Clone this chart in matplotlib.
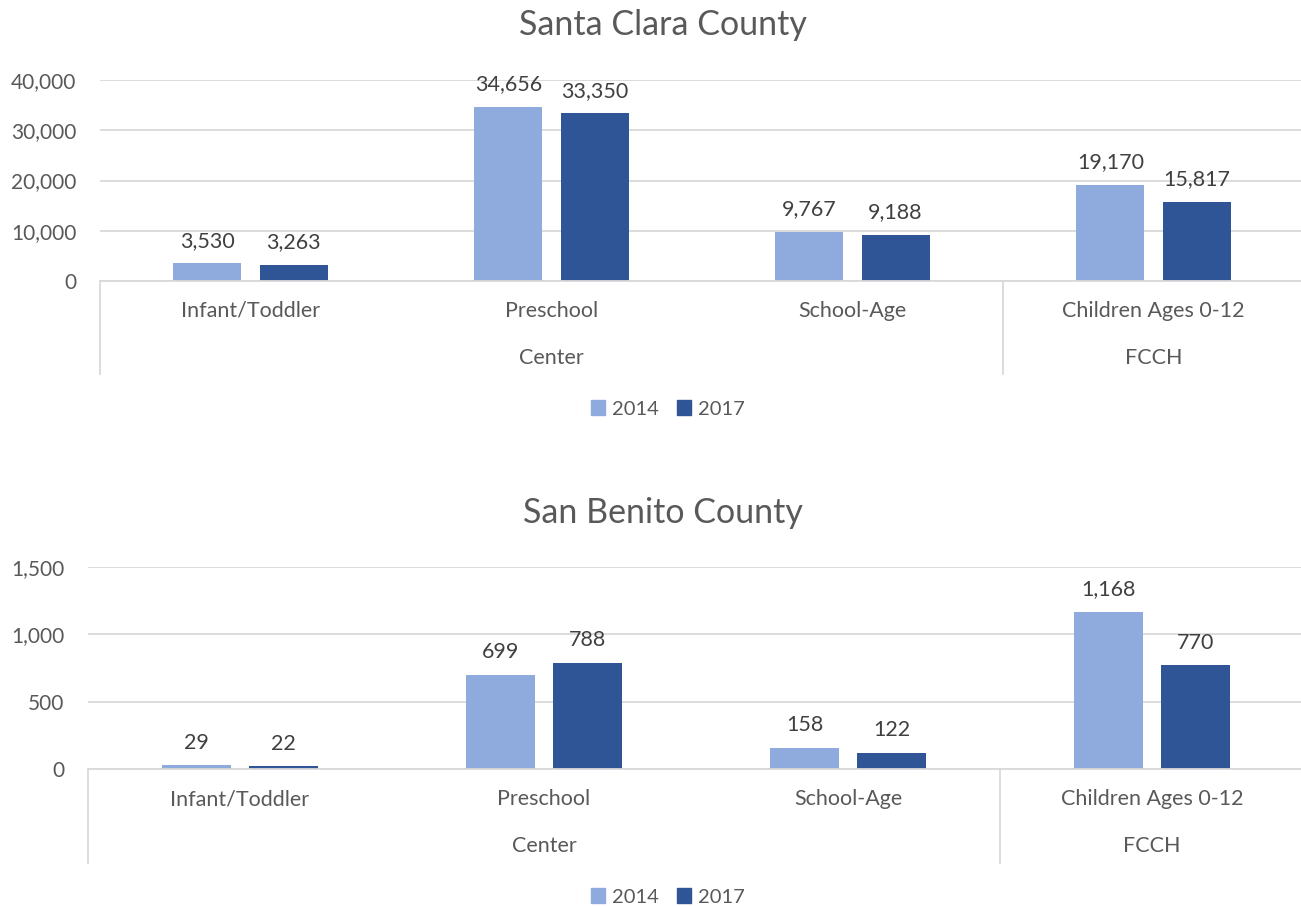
import matplotlib
matplotlib.use("Agg")
import matplotlib.pyplot as plt
import matplotlib.transforms as mtransforms
from matplotlib.patches import Patch

plt.rcParams['font.family'] = ['Lato', 'DejaVu Sans']

categories = ["Infant/Toddler", "Preschool", "School-Age", "Children Ages 0-12"]
groups = ["Center", "Center", "Center", "FCCH"]
series_names = ["2014", "2017"]

santa_clara_2014 = [3530, 34656, 9767, 19170]
santa_clara_2017 = [3263, 33350, 9188, 15817]
san_benito_2014 = [29, 699, 158, 1168]
san_benito_2017 = [22, 788, 122, 770]

sc_ticks = [0, 10000, 20000, 30000, 40000]
sb_ticks = [0, 500, 1000, 1500]

C14 = "#8FAADC"
C17 = "#2F5597"
GRID = "#D9D9D9"
TXT = "#595959"
LBL = "#404040"

W, H = 1301, 907
fig = plt.figure(figsize=(W / 100, H / 100), dpi=100)


def px_axes(left, top, right, bottom):
    return fig.add_axes([left / W, 1 - bottom / H, (right - left) / W, (bottom - top) / H])


def draw(ax, v14, v17, ticks, title, title_y, legend_y):
    x = list(range(len(categories)))
    bw = 0.226
    off = 0.143
    xa = [i - off for i in x]
    xb = [i + off for i in x]
    b1 = ax.bar(xa, v14, width=bw, color=C14, zorder=3)
    b2 = ax.bar(xb, v17, width=bw, color=C17, zorder=3)
    for bars, vals in ((b1, v14), (b2, v17)):
        for r, v in zip(bars, vals):
            ax.annotate(f"{v:,}", (r.get_x() + r.get_width() / 2, v),
                        xytext=(0, 9), textcoords="offset points",
                        ha="center", va="bottom", fontsize=15.5, color=LBL)
    ax.set_xlim(-0.5, len(categories) - 0.5)
    ax.set_ylim(ticks[0], ticks[-1])
    ax.set_yticks(ticks)
    ax.set_yticklabels([f"{t:,}" for t in ticks])
    ax.tick_params(axis="y", length=0, pad=17, labelsize=15, labelcolor=TXT)
    ax.set_xticks([])
    ax.grid(axis="y", color=GRID, linewidth=1.3, zorder=0)
    for s in ("top", "right", "left"):
        ax.spines[s].set_visible(False)
    ax.spines["bottom"].set_color(GRID)
    ax.spines["bottom"].set_linewidth(1.3)
    ax.spines["bottom"].set_zorder(4)
    trans = mtransforms.blended_transform_factory(ax.transData, ax.transAxes)
    for i, c in enumerate(categories):
        ax.text(i, -0.149, c, transform=trans, ha="center", va="center",
                fontsize=15.5, color=TXT)
    uniq = []
    for i, g in enumerate(groups):
        if not uniq or uniq[-1][0] != g:
            uniq.append([g, i, i])
        else:
            uniq[-1][2] = i
    for g, s, e in uniq:
        ax.text((s + e) / 2, -0.382, g, transform=trans, ha="center", va="center",
                fontsize=15.5, color=TXT)
        ax.plot([s - 0.5, s - 0.5], [0, -0.465], transform=trans, color=GRID,
                linewidth=1.3, clip_on=False)
    fig.text(663 / W, 1 - title_y / H, title, ha="center", va="center",
             fontsize=24.5, color=TXT)
    handles = [Patch(color=C14, label=series_names[0]), Patch(color=C17, label=series_names[1])]
    fig.legend(handles=handles, loc="center", bbox_to_anchor=(668 / W, 1 - legend_y / H),
               ncol=2, frameon=False, fontsize=14.5, handlelength=0.7, handleheight=0.7,
               handletextpad=0.35, columnspacing=0.9, labelcolor=TXT)


ax1 = px_axes(100, 80, 1304, 281)
draw(ax1, santa_clara_2014, santa_clara_2017, sc_ticks, "Santa Clara County", 25, 409)
ax2 = px_axes(88, 567, 1304, 769)
draw(ax2, san_benito_2014, san_benito_2017, sb_ticks, "San Benito County", 513, 897)

fig.savefig("out.png", dpi=100, facecolor="white")
